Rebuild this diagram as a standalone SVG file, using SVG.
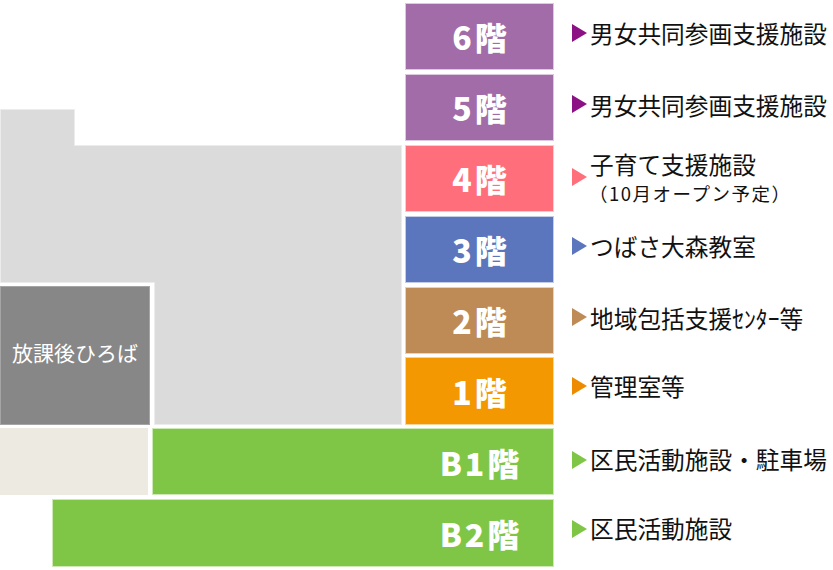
<svg xmlns="http://www.w3.org/2000/svg" width="833" height="570" viewBox="0 0 833 570">
<style>
.fl{font-family:"Noto Sans CJK JP","Noto Sans",sans-serif;font-weight:900;font-size:32px;fill:#fff;text-anchor:middle;letter-spacing:3px}
.ds{font-family:"Noto Sans CJK JP","Noto Sans",sans-serif;font-size:23.7px;fill:#111}
.sm{font-size:18.5px}
.p{fill:#A26CA8;stroke:#DCC9E0;stroke-width:1}
.pk{fill:#FF6E7B;stroke:#FFC9CE;stroke-width:1}
.bl{fill:#5B76BC;stroke:#C3CDE8;stroke-width:1}
.br{fill:#BE8A55;stroke:#E6D2BD;stroke-width:1}
.or{fill:#F39800;stroke:#FAD49A;stroke-width:1}
.gr{fill:#7FC646;stroke:#CDE9B5;stroke-width:1}
</style>
<rect width="833" height="570" fill="#fff"/>
<g id="building">
<polygon points="0.5,109.5 74.5,109.5 74.5,145.5 401.5,145.5 401.5,424.5 154.5,424.5 154.5,282.5 0.5,282.5" fill="#DBDBDB" stroke="#ECECEC" stroke-width="1"/>
</g>
<g id="houkago">
<rect x="0.5" y="286.5" width="149" height="138" fill="#878787" stroke="#A5A5A5" stroke-width="1"/>
<text x="75" y="361" font-family="Noto Sans CJK JP, Noto Sans, sans-serif" font-size="21" fill="#fff" text-anchor="middle">放課後ひろば</text>
</g>
<g id="annex">
<rect x="0" y="428" width="148" height="67" fill="#EDEBE1"/>
</g>
<g id="f6">
<rect class="p" x="405.5" y="3.5" width="148" height="66"/>
<text class="fl" x="481" y="50">6階</text>
<polygon points="572,24 587,33 572,42" fill="#8C1184"/>
<text class="ds" x="590" y="43">男女共同参画支援施設</text>
</g>
<g id="f5">
<rect class="p" x="405.5" y="74.5" width="148" height="66"/>
<text class="fl" x="481" y="121">5階</text>
<polygon points="572,95 587,104 572,113" fill="#8C1184"/>
<text class="ds" x="590" y="115">男女共同参画支援施設</text>
</g>
<g id="f4">
<rect class="pk" x="405.5" y="145.5" width="148" height="66"/>
<text class="fl" x="481" y="192">4階</text>
<polygon points="572,168 587,177 572,186" fill="#FF6E7B"/>
<text class="ds" x="590" y="174">子育て支援施設</text>
<text class="ds sm" x="589" y="201" textLength="201">（10月オープン予定）</text>
</g>
<g id="f3">
<rect class="bl" x="405.5" y="216.5" width="148" height="66"/>
<text class="fl" x="481" y="263">3階</text>
<polygon points="572,237 587,246 572,255" fill="#5B76BC"/>
<text class="ds" x="590" y="256">つばさ大森教室</text>
</g>
<g id="f2">
<rect class="br" x="405.5" y="287.5" width="148" height="66"/>
<text class="fl" x="481" y="334">2階</text>
<polygon points="572,308 587,317 572,326" fill="#BE8A55"/>
<text class="ds" x="590" y="328">地域包括支援ｾﾝﾀｰ等</text>
</g>
<g id="f1">
<rect class="or" x="405.5" y="357.5" width="148" height="67"/>
<text class="fl" x="481" y="405">1階</text>
<polygon points="572,377 587,386 572,395" fill="#EE8A00"/>
<text class="ds" x="590" y="396">管理室等</text>
</g>
<g id="fb1">
<rect class="gr" x="152.5" y="428.5" width="401" height="66"/>
<text class="fl" x="481" y="476">B1階</text>
<polygon points="572,451 587,460 572,469" fill="#7FC646"/>
<text class="ds" x="590" y="469">区民活動施設・駐車場</text>
</g>
<g id="fb2">
<rect class="gr" x="52.5" y="499.5" width="501" height="67"/>
<text class="fl" x="481" y="547">B2階</text>
<polygon points="572,520 587,529 572,538" fill="#7FC646"/>
<text class="ds" x="590" y="538">区民活動施設</text>
</g>
<g id="connectors"/>
</svg>
